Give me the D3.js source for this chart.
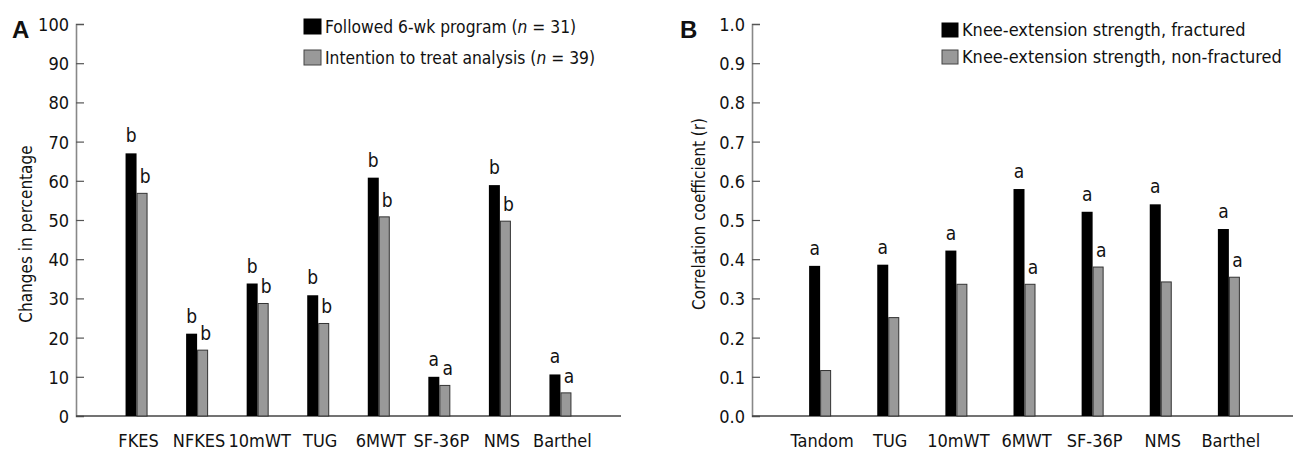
<!DOCTYPE html>
<html>
<head>
<meta charset="utf-8">
<script src="https://cdn.jsdelivr.net/npm/d3@7"></script>
<style>
	body { margin: 0; background: #fff; }
	svg text { font-family: "DejaVu Sans Condensed", "DejaVu Sans", sans-serif; font-stretch: condensed; fill: #111; }
	.tick-label { font-size: 18px; }
	.sig { font-size: 19px; }
	.legend-text { font-size: 18px; }
	.legend-a { font-size: 17.3px; }
	.axis-label { font-size: 17px; }
	.panel-label { font-size: 24px; font-weight: bold; font-family: "Liberation Sans", Arial, sans-serif; font-stretch: normal; }
</style>
</head>
<body>
<div id="chart"></div>
<script>
// panel A: changes after the program
const catsA = ['FKES', 'NFKES', '10mWT', 'TUG', '6MWT', 'SF-36P', 'NMS', 'Barthel'];
const followedA = [67, 21, 33.8, 30.8, 60.8, 10, 58.9, 10.6];
const ittA = [56.8, 16.8, 28.7, 23.6, 50.8, 7.8, 49.7, 5.9];
const sigFollowedA = ['b', 'b', 'b', 'b', 'b', 'a', 'b', 'a'];
const sigIttA = ['b', 'b', 'b', 'b', 'b', 'a', 'b', 'a'];
const ticksA = [0, 10, 20, 30, 40, 50, 60, 70, 80, 90, 100];

// panel B: correlation coefficients
const catsB = ['Tandom', 'TUG', '10mWT', '6MWT', 'SF-36P', 'NMS', 'Barthel'];
const fracturedB = [0.383, 0.386, 0.422, 0.579, 0.521, 0.540, 0.477];
const nonFracturedB = [0.116, 0.251, 0.336, 0.336, 0.380, 0.342, 0.354];
const sigFracturedB = ['a', 'a', 'a', 'a', 'a', 'a', 'a'];
const sigNonFracturedB = ['', '', '', 'a', 'a', '', 'a'];
const ticksB = [0, 0.1, 0.2, 0.3, 0.4, 0.5, 0.6, 0.7, 0.8, 0.9, 1.0];

class BarPanel {
	constructor(_config, _data) {
		this.config = {
			svg: _config.svg,
			left: _config.left,
			top: _config.top || 24,
			height: _config.height || 392,
			width: _config.width,
			yMax: _config.yMax,
			ticks: _config.ticks,
			tickFormat: _config.tickFormat,
			panelLabel: _config.panelLabel,
			panelLabelX: _config.panelLabelX,
			yLabel: _config.yLabel,
			yLabelX: _config.yLabelX,
			yLabelY: _config.yLabelY,
			legend: _config.legend,
		}
		this.data = _data;
		this.initVis();
	}

	initVis() {
		const vis = this;
		const c = vis.config;

		vis.g = c.svg.append('g').attr('transform', `translate(${c.left}, ${c.top})`);

		// scales
		vis.xScale = d3.scalePoint().domain(vis.data.cats).range([0, c.width]).padding(1);
		vis.yScale = d3.scaleLinear().domain([0, c.yMax]).range([c.height, 0]);

		// y axis: ticks point inward
		vis.yAxis = d3.axisRight(vis.yScale).tickValues(c.ticks).tickSize(8).tickFormat(c.tickFormat);
		vis.yAxisG = vis.g.append('g').call(vis.yAxis);
		vis.yAxisG.select('.domain').attr('stroke', '#888').attr('stroke-width', 1.6);
		vis.yAxisG.selectAll('.tick line').attr('stroke', '#555').attr('stroke-width', 1.2);
		vis.yAxisG.selectAll('.tick text')
			.attr('class', 'tick-label')
			.attr('x', -7)
			.attr('text-anchor', 'end')
			.attr('dy', '0.36em')
			.attr('fill', '#111');

		// x axis baseline and labels
		vis.g.append('line')
			.attr('x1', 0).attr('x2', c.width)
			.attr('y1', c.height).attr('y2', c.height)
			.attr('stroke', '#444').attr('stroke-width', 1.4);
		vis.g.selectAll('.x-label')
			.data(vis.data.cats)
			.join('text')
			.attr('class', 'tick-label x-label')
			.attr('text-anchor', 'middle')
			.attr('x', d => vis.xScale(d) + 2)
			.attr('y', c.height + 31)
			.text(d => d);

		// panel letter
		vis.g.append('text')
			.attr('class', 'panel-label')
			.attr('x', c.panelLabelX)
			.attr('y', 14)
			.text(c.panelLabel);

		// y axis label
		vis.g.append('text')
			.attr('class', 'axis-label')
			.attr('text-anchor', 'middle')
			.attr('transform', `translate(${c.yLabelX}, ${c.yLabelY}) rotate(-90)`)
			.text(c.yLabel);

		vis.renderVis();
	}

	renderVis() {
		const vis = this;
		const c = vis.config;
		const bw = 11;
		const rows = vis.data.cats.map((cat, i) => ({
			cat: cat,
			a: vis.data.first[i], b: vis.data.second[i],
			sa: vis.data.sigFirst[i], sb: vis.data.sigSecond[i],
		}));

		vis.g.selectAll('.bar-first')
			.data(rows)
			.join('rect')
			.attr('class', 'bar-first')
			.attr('x', d => vis.xScale(d.cat) - bw)
			.attr('y', d => vis.yScale(d.a))
			.attr('width', bw)
			.attr('height', d => c.height - vis.yScale(d.a))
			.attr('fill', '#000');

		vis.g.selectAll('.bar-second')
			.data(rows)
			.join('rect')
			.attr('class', 'bar-second')
			.attr('x', d => vis.xScale(d.cat) + 0.5)
			.attr('y', d => vis.yScale(d.b))
			.attr('width', bw - 1)
			.attr('height', d => c.height - vis.yScale(d.b))
			.attr('fill', '#999')
			.attr('stroke', '#333')
			.attr('stroke-width', 1);

		// significance letters
		vis.g.selectAll('.sig-first')
			.data(rows)
			.join('text')
			.attr('class', 'sig sig-first')
			.attr('text-anchor', 'middle')
			.attr('x', d => vis.xScale(d.cat) - bw / 2)
			.attr('y', d => vis.yScale(d.a) - 11)
			.text(d => d.sa);

		vis.g.selectAll('.sig-second')
			.data(rows)
			.join('text')
			.attr('class', 'sig sig-second')
			.attr('text-anchor', 'middle')
			.attr('x', d => vis.xScale(d.cat) + bw / 2 + 3)
			.attr('y', d => vis.yScale(d.b) - 10)
			.text(d => d.sb);

		// legend
		const lg = c.legend;
		lg.items.forEach((item, i) => {
			const y = lg.y + i * lg.gap;
			vis.g.append('rect')
				.attr('x', lg.x).attr('y', y - lg.box + 1)
				.attr('width', lg.box + 2).attr('height', lg.box)
				.attr('fill', i === 0 ? '#000' : '#999')
				.attr('stroke', i === 0 ? '#000' : '#444')
				.attr('stroke-width', 1);
			const t = vis.g.append('text')
				.attr('class', 'legend-text ' + (lg.cls || ''))
				.attr('x', lg.x + lg.box + 6)
				.attr('y', y);
			t.append('tspan').text(item.text);
			if (item.n) {
				t.append('tspan').text(' (');
				t.append('tspan').attr('font-style', 'italic').text('n');
				t.append('tspan').text(` = ${item.n})`);
			}
		});
	}
}

const svg = d3.select('#chart').append('svg').attr('width', 1293).attr('height', 452);

new BarPanel({
	svg: svg,
	left: 76,
	width: 545,
	yMax: 100,
	ticks: ticksA,
	tickFormat: d3.format('d'),
	panelLabel: 'A',
	panelLabelX: -64,
	yLabel: 'Changes in percentage',
	yLabelX: -44,
	yLabelY: 210,
	legend: { x: 228, y: 9, gap: 31, box: 15, cls: 'legend-a', items: [
		{ text: 'Followed 6-wk program', n: 31 },
		{ text: 'Intention to treat analysis', n: 39 },
	] },
}, { cats: catsA, first: followedA, second: ittA, sigFirst: sigFollowedA, sigSecond: sigIttA });

new BarPanel({
	svg: svg,
	left: 752,
	width: 545,
	yMax: 1,
	ticks: ticksB,
	tickFormat: d3.format('.1f'),
	panelLabel: 'B',
	panelLabelX: -72,
	yLabel: 'Correlation coefficient (r)',
	yLabelX: -47,
	yLabelY: 190,
	legend: { x: 190, y: 12, gap: 27, box: 14, items: [
		{ text: 'Knee-extension strength, fractured' },
		{ text: 'Knee-extension strength, non-fractured' },
	] },
}, { cats: catsB, first: fracturedB, second: nonFracturedB, sigFirst: sigFracturedB, sigSecond: sigNonFracturedB });
</script>
</body>
</html>
